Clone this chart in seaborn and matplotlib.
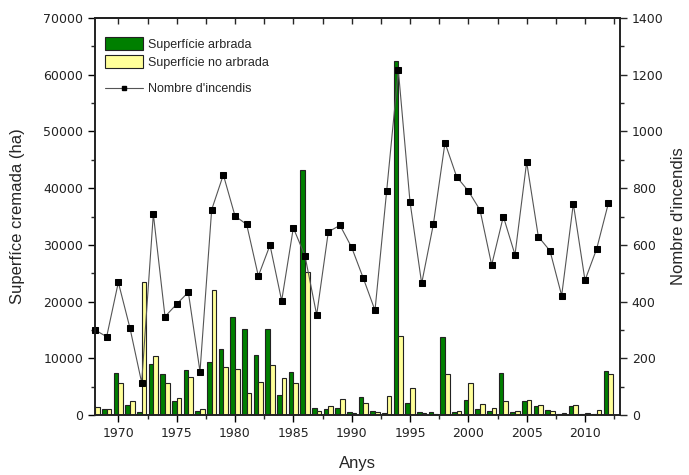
import numpy as np
import pandas as pd
import matplotlib
matplotlib.use("Agg")
import matplotlib.pyplot as plt
import seaborn as sns
from matplotlib.patches import Patch
from matplotlib.lines import Line2D
from matplotlib.ticker import MultipleLocator

years = list(range(1968, 2013))
arbrada = [1500, 1100, 7400, 1700, 600, 9000, 7300, 2400, 7900, 700,
           9300, 11700, 17200, 15100, 10500, 15100, 3500, 7500, 43200, 1150,
           1000, 1300, 600, 3200, 700, 300, 62500, 2200, 500, 550,
           13700, 450, 2600, 1000, 650, 7400, 450, 2500, 1550, 800,
           200, 1650, 200, 200, 7700]
no_arbrada = [1400, 1000, 5700, 2400, 23400, 10400, 5700, 3000, 6700, 1000,
              22100, 8400, 8100, 3900, 5900, 8800, 6600, 5700, 25200, 650,
              1600, 2800, 400, 2100, 600, 3300, 14000, 4800, 400, 250,
              7200, 650, 5700, 2000, 1300, 2400, 650, 2600, 1700, 750,
              300, 1750, 300, 850, 7200]
incendis = [300, 276, 468, 306, 114, 709, 347, 391, 433, 153,
            724, 847, 702, 672, 490, 599, 403, 660, 561, 353,
            646, 669, 591, 482, 369, 790, 1216, 752, 464, 672,
            960, 840, 790, 723, 529, 700, 565, 892, 629, 579,
            421, 745, 475, 586, 746]

lab_arb = "Superfície arbrada"
lab_noarb = "Superfície no arbrada"
lab_inc = "Nombre d'incendis"

df = pd.DataFrame({
    "Any": years * 2,
    "Valor": arbrada + no_arbrada,
    "Tipus": [lab_arb] * len(years) + [lab_noarb] * len(years),
})
df_line = pd.DataFrame({"Any": years, "Incendis": incendis})

sns.set_theme(style="ticks")
plt.rcParams["font.family"] = ["DejaVu Sans"]

green = "#007F00"
yellow = "#FFFF99"

fig = plt.figure(figsize=(6.89, 4.75), dpi=100)
ax = fig.add_axes([95 / 689, 1 - 415 / 475, (620 - 95) / 689, (415 - 18) / 475])

sns.barplot(data=df, x="Any", y="Valor", hue="Tipus", native_scale=True,
            palette=[green, yellow], width=0.8, edgecolor="#222222",
            linewidth=0.8, saturation=1, ax=ax, legend=False, errorbar=None)

ax.set_xlim(1968, 2013)
ax.set_ylim(0, 70000)
ax.xaxis.set_major_locator(MultipleLocator(5))
ax.xaxis.set_minor_locator(MultipleLocator(2.5))
ax.yaxis.set_major_locator(MultipleLocator(10000))
ax.yaxis.set_minor_locator(MultipleLocator(5000))
ax.tick_params(axis="both", which="major", direction="out", length=5, width=1,
               labelsize=9, colors="black", labelcolor="#222222")
ax.tick_params(axis="both", which="minor", direction="out", length=3, width=1)
ax.set_xlabel("Anys", family="Liberation Sans", fontsize=12, labelpad=12)
ax.set_ylabel("Superfíce cremada (ha)", family="Liberation Sans", fontsize=12, labelpad=13)

top = ax.secondary_xaxis("top")
top.xaxis.set_major_locator(MultipleLocator(5))
top.xaxis.set_minor_locator(MultipleLocator(2.5))
top.tick_params(which="both", direction="in", length=4, width=1, labeltop=False)

ax2 = ax.twinx()
sns.lineplot(data=df_line, x="Any", y="Incendis", ax=ax2, color="#555555",
             linewidth=0.8, marker="s", markersize=3.8, markerfacecolor="black",
             markeredgecolor="black", clip_on=False)
ax2.set_ylim(0, 1400)
ax2.set_xlim(1968, 2013)
ax2.yaxis.set_major_locator(MultipleLocator(200))
ax2.yaxis.set_minor_locator(MultipleLocator(100))
ax2.tick_params(axis="y", which="major", direction="out", length=5, width=1,
                labelsize=9, labelcolor="#222222")
ax2.tick_params(axis="y", which="minor", direction="out", length=3, width=1)
ax2.set_ylabel(lab_inc, family="Liberation Sans", fontsize=12, labelpad=5)

for a in (ax, ax2):
    for s in a.spines.values():
        s.set_visible(True)
        s.set_linewidth(1.2)
        s.set_color("#222222")

h_bars = [Patch(facecolor=green, edgecolor="#222222", linewidth=0.8, label=lab_arb),
          Patch(facecolor=yellow, edgecolor="#222222", linewidth=0.8, label=lab_noarb)]
leg1 = ax2.legend(handles=h_bars, loc="upper left", bbox_to_anchor=(0.005, 0.97),
                  frameon=False, prop={"family": "Liberation Sans", "size": 9},
                  handlelength=3.0, handleheight=1.2, labelspacing=0.35,
                  handletextpad=0.4, borderaxespad=0.2)
ax2.add_artist(leg1)
h_line = [Line2D([0], [0], color="#555555", linewidth=0.8, marker="s",
                 markersize=3.5, markerfacecolor="black", markeredgecolor="black",
                 label=lab_inc)]
ax2.legend(handles=h_line, loc="upper left", bbox_to_anchor=(0.005, 0.855),
           frameon=False, prop={"family": "Liberation Sans", "size": 9},
           handlelength=3.0, handletextpad=0.4, borderaxespad=0.2)

fig.savefig("out.png", dpi=100)
